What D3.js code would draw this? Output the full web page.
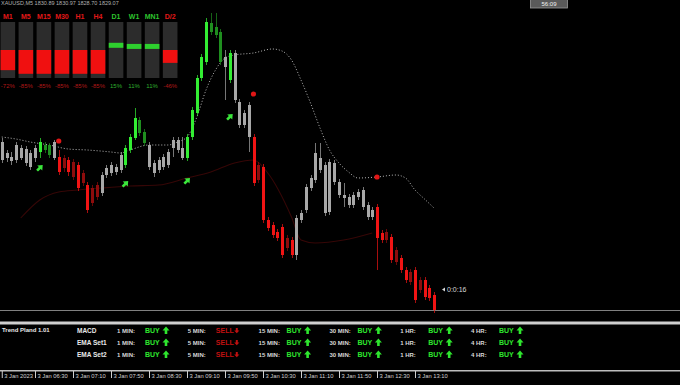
<!DOCTYPE html>
<html><head><meta charset="utf-8">
<script src="https://cdn.jsdelivr.net/npm/d3@7"></script>
<style>html,body{margin:0;padding:0;background:#000;overflow:hidden}svg{display:block}</style>
</head><body><svg id="c" width="680" height="385"></svg>
<script>
// ---------- DATA ----------
const opens = [1845.8,1844.2,1844.3,1844.0,1845.2,1843.7,1844.7,1844.2,1844.8,1845.5,
1845.5,1844.2,1844.3,1843.2,1844.0,1842.3,1843.5,1841.7,1841.5,1839.7,
1840.3,1840.7,1842.5,1842.7,1843.3,1843.0,1843.5,1845.0,1846.2,1848.0,
1846.8,1845.5,1843.7,1843.0,1843.3,1843.5,1845.2,1846.0,1845.2,1844.2,
1846.3,1848.7,1852.2,1853.8,1857.7,1857.3,1856.8,1854.3,1852.0,1854.7,
1849.8,1847.5,1849.5,1846.3,1842.0,1843.3,1838.0,1837.5,1836.8,1837.3,
1835.2,1836.0,1834.5,1838.0,1839.0,1841.2,1842.0,1844.2,1843.5,1838.8,
1843.7,1841.8,1840.5,1840.3,1839.5,1840.3,1839.3,1839.5,1839.0,1839.3,
1836.7,1836.0,1836.3,1833.8,1834.2,1833.0,1831.8,1833.0,1831.0,1832.0,
1831.2,1830.5];
const highs = [1846.2,1845.0,1844.8,1845.8,1845.5,1845.4,1845.0,1845.5,1846.2,1845.8,
1845.7,1846.0,1845.0,1844.5,1844.3,1844.1,1843.8,1843.0,1841.8,1841.5,
1841.8,1842.8,1843.5,1843.8,1843.6,1844.8,1845.5,1846.6,1849.2,1848.3,
1847.1,1845.8,1844.0,1844.3,1844.6,1845.1,1846.3,1846.3,1846.3,1846.6,
1849.3,1852.5,1854.6,1858.2,1858.7,1858.7,1857.1,1855.0,1855.0,1855.0,
1850.1,1849.0,1849.8,1846.6,1843.8,1843.6,1838.3,1837.8,1837.1,1837.6,
1836.5,1836.3,1838.5,1839.0,1841.6,1842.5,1845.7,1845.7,1843.8,1844.1,
1844.0,1842.1,1841.7,1840.6,1840.8,1841.1,1841.3,1839.8,1839.3,1839.6,
1837.0,1837.1,1836.6,1835.3,1834.5,1833.3,1833.1,1833.3,1832.3,1832.3,
1831.5,1830.8];
const lows = [1843.7,1843.8,1843.5,1843.7,1844.0,1843.4,1843.0,1843.8,1844.2,1844.7,
1844.2,1844.0,1842.5,1842.8,1842.4,1842.0,1840.9,1841.4,1838.7,1839.4,
1840.0,1840.4,1842.2,1842.4,1842.5,1842.7,1843.2,1844.7,1846.0,1846.4,
1845.4,1843.0,1842.3,1842.7,1843.0,1843.2,1844.3,1844.7,1844.0,1843.9,
1846.0,1848.4,1851.9,1853.5,1856.5,1856.2,1853.5,1850.0,1851.7,1849.7,
1847.2,1847.2,1844.8,1841.4,1841.7,1837.7,1836.9,1836.2,1835.9,1834.2,
1834.9,1834.2,1834.0,1837.7,1838.7,1840.9,1841.7,1842.7,1838.4,1838.5,
1841.5,1840.2,1839.3,1839.2,1839.2,1840.0,1839.0,1838.0,1838.0,1833.0,
1835.7,1835.7,1833.7,1833.5,1832.7,1831.7,1831.5,1829.7,1830.7,1830.0,
1829.9,1828.7];
const closes = [1844.0,1844.7,1843.9,1845.5,1844.2,1845.1,1843.3,1845.2,1845.8,1845.0,
1844.5,1845.8,1842.8,1844.2,1842.8,1843.8,1841.2,1842.7,1839.0,1841.2,
1841.5,1842.5,1843.2,1843.5,1842.8,1844.5,1845.2,1846.3,1848.2,1846.7,
1845.7,1843.3,1842.7,1844.0,1844.3,1844.8,1846.0,1845.0,1844.2,1846.3,
1849.0,1852.2,1854.3,1857.8,1856.8,1856.5,1853.8,1853.3,1854.7,1850.0,
1847.5,1848.7,1846.3,1841.7,1843.5,1838.0,1837.2,1836.5,1836.2,1834.5,
1836.2,1834.5,1838.2,1838.7,1841.3,1842.2,1844.7,1843.0,1838.7,1843.8,
1841.8,1840.5,1840.2,1839.5,1840.5,1840.8,1841.0,1838.3,1838.3,1836.2,
1836.0,1836.8,1834.0,1835.0,1833.0,1832.0,1832.8,1830.0,1832.0,1830.3,
1830.2,1829.0];
// trend state per candle: g = up, r = down, n = neutral
const trend = ("nnnnnnnn"+"ggg"+"n"+"rrrrrrrrr"+"nnnnn"+"ggggg"+"nnnnnnnn"+"gggggggg"+"n"+"g"+"nnnn"+
  "rrrrrrrrr"+"nnnnnnnnnnnnnnnnn"+"rrrrrrrrrrrrr").split("");

// upper dotted band (candle index, price)
const upperIdx = [0,3,6,10,14,18,23,25,27,31,35,37,39,41,43,45,47,49,53,57,59,61,63,65,67,69,71,73,75,79,83,85,87,89,91];
const upperVal = [1846.3,1846.1,1845.8,1845.5,1845.1,1845.0,1844.8,1844.7,1845.0,1845.5,1845.5,1845.8,1846.3,1848.2,1851.0,1853.0,1854.2,1854.5,1854.7,1855.1,1854.9,1854.0,1852.0,1849.7,1847.2,1845.0,1843.7,1842.8,1842.2,1842.3,1842.5,1842.2,1841.0,1840.1,1839.2];
// lower dark-red band
const lowerIdx = [4,8,12,16,21,27,33,39,44,49,53,56,61,63,66,72,78];
const lowerVal = [1838.2,1840.0,1840.8,1841.0,1841.2,1841.4,1841.5,1842.2,1842.8,1843.7,1844.0,1842.7,1838.3,1836.0,1835.7,1836.0,1836.7];

// signals
const buyIdx = [8,26,39,48];
const buyVal = [1843.2,1841.6,1841.9,1848.3];
const sellIdx = [12,53,79];
const sellVal = [1845.9,1850.6,1842.3];

// time axis
const tickIdx = [0,7,15,23,31,39,47,55,63,71,79,87];
const tickLabels = ["3 Jan 2023","3 Jan 06:30","3 Jan 07:10","3 Jan 07:50","3 Jan 08:30","3 Jan 09:10",
  "3 Jan 09:50","3 Jan 10:30","3 Jan 11:10","3 Jan 11:50","3 Jan 12:30","3 Jan 13:10"];

// strength panel
const tfLabels = ["M1","M5","M15","M30","H1","H4","D1","W1","MN1","D/2"];
const tfValues = [-72,-85,-85,-85,-85,-85,15,11,11,-46];

// signal table
const rowLabels = ["MACD","EMA Set1","EMA Set2"];
const tfNames = ["1 MIN:","5 MIN:","15 MIN:","30 MIN:","1 HR:","4 HR:"];
const signals = [
  ["BUY","SELL","BUY","BUY","BUY","BUY"],
  ["BUY","SELL","BUY","BUY","BUY","BUY"],
  ["BUY","SELL","BUY","BUY","BUY","BUY"]];

const headerText = "XAUUSD,M5  1830.89 1830.97 1828.70 1829.07";
const timerText = "0:0:16";
const clockText = "56:09";
const panelTitle = "Trend Pland 1.01";

// ---------- DRAW ----------
const FONT = "'Liberation Sans', Arial, sans-serif";
const svg = d3.select("#c").style("font-family", FONT);
svg.append("rect").attr("width",680).attr("height",385).attr("fill","#000");

const x = d3.scaleLinear().domain([0,91]).range([1.75,434]);
const y = d3.scaleLinear().domain([1828.8,1860]).range([312,0]);

const candles = opens.map((o,i)=>({i,o,h:highs[i],l:lows[i],c:closes[i],t:trend[i]}));
function col(d){
  const up = d.c >= d.o;
  if (d.t==="g") return up ? "#33ee33" : "#1f8f1f";
  if (d.t==="r") return up ? "#8e0c0c" : "#f01414";
  return "#a8a8a8";
}

// lower band
svg.append("path")
  .datum(lowerIdx.map((d,k)=>[d,lowerVal[k]]))
  .attr("d", d3.line().x(d=>x(d[0])).y(d=>y(d[1])).curve(d3.curveMonotoneX))
  .attr("fill","none").attr("stroke","#360606").attr("stroke-width",1.1);

// upper dotted band
svg.append("path")
  .datum(upperIdx.map((d,k)=>[d,upperVal[k]]))
  .attr("d", d3.line().x(d=>x(d[0])).y(d=>y(d[1])).curve(d3.curveMonotoneX))
  .attr("fill","none").attr("stroke","#b8b8b8").attr("stroke-width",1)
  .attr("stroke-dasharray","1,2");

// bid line
const bidY = Math.round(y(closes[closes.length-1]))+0.5;
svg.append("line").attr("x1",0).attr("x2",680).attr("y1",bidY).attr("y2",bidY)
  .attr("stroke","#808080").attr("stroke-width",1.2);

// candles
const cg = svg.append("g");
cg.selectAll("line.w").data(candles).join("line").attr("class","w")
  .attr("x1",d=>Math.round(x(d.i))+0.5).attr("x2",d=>Math.round(x(d.i))+0.5)
  .attr("y1",d=>y(d.h)).attr("y2",d=>y(d.l))
  .attr("stroke",col).attr("stroke-opacity",0.7).attr("stroke-width",1);
cg.selectAll("rect.b").data(candles).join("rect").attr("class","b")
  .attr("x",d=>Math.round(x(d.i))-1).attr("width",3)
  .attr("y",d=>y(Math.max(d.o,d.c)))
  .attr("height",d=>Math.max(1, y(Math.min(d.o,d.c))-y(Math.max(d.o,d.c))))
  .attr("fill",col);

// buy arrows (up-right)
svg.selectAll("path.buy").data(buyIdx).join("path").attr("class","buy")
  .attr("transform",(d,k)=>`translate(${x(d)},${y(buyVal[k])}) rotate(45)`)
  .attr("d","M0,-4.2L3.6,0L1.3,0L1.3,3.8L-1.3,3.8L-1.3,0L-3.6,0Z")
  .attr("fill","#3be63b");
// sell dots
svg.selectAll("circle.sell").data(sellIdx).join("circle").attr("class","sell")
  .attr("cx",d=>x(d)).attr("cy",(d,k)=>y(sellVal[k])).attr("r",2.6).attr("fill","#e01616");

// timer
svg.append("path").attr("d","M442,289.5L445,287.5L445,291.5Z").attr("fill","#d8d8d8");
svg.append("text").attr("x",447).attr("y",292).attr("font-size",7).attr("fill","#d8d8d8").text(timerText);

// clock box top right
svg.append("rect").attr("x",530.5).attr("y",-1).attr("width",37).attr("height",9)
  .attr("fill","#5a5a5a").attr("stroke","#999").attr("stroke-width",0.8);
svg.append("text").attr("x",549).attr("y",6).attr("text-anchor","middle").attr("font-size",6)
  .attr("fill","#f0f0f0").text(clockText);

// header text
svg.append("text").attr("x",1).attr("y",5).attr("font-size",5.5).attr("fill","#b0b0b0").text(headerText);

// strength panel
const bx = d3.scaleBand().domain(tfLabels).range([0,178]).paddingInner(0.19).paddingOuter(0.03);
const mid = 50, half = 28;
const sp = svg.append("g");
sp.selectAll("rect.bg").data(tfLabels).join("rect").attr("class","bg")
  .attr("x",d=>bx(d)).attr("width",bx.bandwidth()).attr("y",mid-half).attr("height",2*half).attr("fill","#2c2c2c");
sp.selectAll("rect.v").data(tfValues).join("rect").attr("class","v")
  .attr("x",(d,k)=>bx(tfLabels[k])).attr("width",bx.bandwidth())
  .attr("y",d=> d<0 ? mid : mid - d/100*half - 3)
  .attr("height",d=> d<0 ? -d/100*half : 5)
  .attr("fill",d=> d<0 ? "#f01010" : "#2ed02e");
sp.selectAll("text.l").data(tfLabels).join("text").attr("class","l")
  .attr("x",d=>bx(d)+bx.bandwidth()/2).attr("y",18.5).attr("text-anchor","middle")
  .attr("font-size",7).attr("font-weight","bold")
  .attr("fill",(d,k)=> tfValues[k]<0 ? "#e01818" : "#2ec42e").text(d=>d);
sp.selectAll("text.p").data(tfValues).join("text").attr("class","p")
  .attr("x",(d,k)=>bx(tfLabels[k])+bx.bandwidth()/2).attr("y",88).attr("text-anchor","middle")
  .attr("font-size",6).attr("fill",d=> d<0 ? "#b01818" : "#2eb02e").text(d=>d+"%");

// separator for bottom panel
svg.append("rect").attr("x",0).attr("y",321.5).attr("width",680).attr("height",3).attr("fill","#cfcfcf");

// signal table
const tp = svg.append("g");
tp.append("text").attr("x",2).attr("y",332).attr("font-size",6).attr("font-weight","bold").attr("fill","#e8e8e8").text(panelTitle);
const ry = d3.scalePoint().domain(rowLabels).range([333,357]);
const gx = d3.scalePoint().domain(tfNames).range([117,471]);
rowLabels.forEach((r,ri)=>{
  const yy = ry(r);
  tp.append("text").attr("x",77).attr("y",yy).attr("font-size",6.5).attr("font-weight","bold").attr("fill","#e8e8e8").text(r);
  tfNames.forEach((t,ti)=>{
    const x0 = gx(t);
    tp.append("text").attr("x",x0).attr("y",yy).attr("font-size",6).attr("font-weight","bold").attr("fill","#d8d8d8").text(t);
    const s = signals[ri][ti];
    const buy = s==="BUY";
    tp.append("text").attr("x",x0+28).attr("y",yy).attr("font-size",7).attr("font-weight","bold")
      .attr("fill",buy?"#2ee62e":"#c01010").text(s);
    tp.append("path").attr("transform",`translate(${x0+49},${yy-2.5})${buy?"":" rotate(180)"}`)
      .attr("d",buy?"M0,-4L3.5,0L1.3,0L1.3,3.5L-1.3,3.5L-1.3,0L-3.5,0Z":"M0,-2.8L2.6,0L1,0L1,2.4L-1,2.4L-1,0L-2.6,0Z")
      .attr("fill",buy?"#2ee62e":"#c01010");
  });
});

// time axis
svg.append("rect").attr("x",0).attr("y",370).attr("width",680).attr("height",1.5).attr("fill","#bdbdbd");
const ax = svg.append("g").attr("transform","translate(0,371)")
  .call(d3.axisBottom(x).tickValues(tickIdx).tickFormat((d,k)=>tickLabels[k]).tickSize(7));
ax.select(".domain").remove();
ax.selectAll(".tick line").attr("stroke","#cfcfcf");
ax.selectAll(".tick text").attr("fill","#d0d0d0").attr("font-size",5.8).attr("font-family",FONT)
  .attr("text-anchor","start").attr("x",2).attr("y",3).attr("dy","0.71em");
</script>
</body></html>
